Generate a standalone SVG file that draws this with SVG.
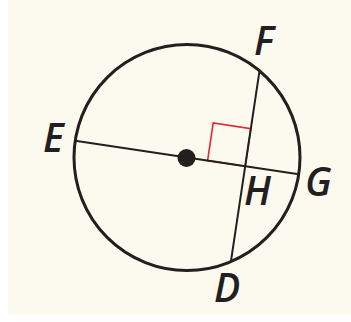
<svg xmlns="http://www.w3.org/2000/svg" width="351" height="322" viewBox="0 0 351 322">
<style>
.lbl{font-family:"Open Sans","Liberation Sans",Arial,sans-serif;font-style:italic;font-weight:600;font-size:39px;fill:#231f20}
.ln{stroke:#231f20;stroke-width:2;fill:none;stroke-linecap:round}
</style>
<rect x="0" y="0" width="351" height="322" fill="#ffffff"/>
<rect x="8" y="0" width="343" height="315" fill="#fcf9ee"/>
<g id="circle">
<circle cx="187" cy="157.5" r="113" fill="none" stroke="#231f20" stroke-width="3"/>
</g>
<g id="right-angle">
<polygon points="207.6,160.6 213.2,123.0 250.8,128.6 245.2,166.2" fill="none" stroke="#e8242c" stroke-width="1.6"/>
</g>
<g id="connectors">
<line class="ln" x1="75.2" y1="140.8" x2="298.8" y2="174.2"/>
<line class="ln" x1="259.5" y1="70.8" x2="230.9" y2="261.6"/>
</g>
<g id="center">
<circle cx="186.5" cy="158" r="9" fill="#231f20"/>
</g>
<g id="labels">
<text class="lbl" x="254" y="55">F</text>
<text class="lbl" x="43" y="152">E</text>
<text class="lbl" x="305" y="196">G</text>
<text class="lbl" x="244" y="205">H</text>
<text class="lbl" x="214" y="302">D</text>
</g>
</svg>
